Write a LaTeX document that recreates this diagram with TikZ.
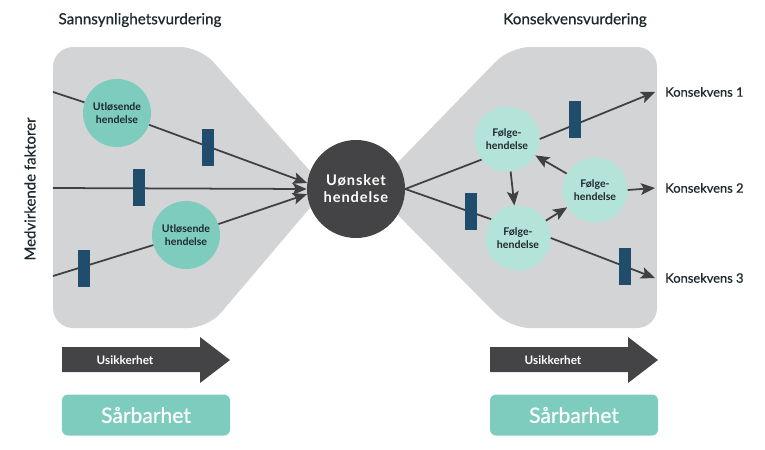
\documentclass[tikz,border=0pt]{standalone}
\usepackage{fontspec}
\setmainfont{Lato}
\newfontfamily\medfont[FakeBold=0.7]{Lato}
\usetikzlibrary{arrows.meta, positioning, calc}
\definecolor{AreaGray}{RGB}{211,212,214}
\definecolor{TealDark}{RGB}{126,204,189}
\definecolor{TealLight}{RGB}{180,227,217}
\definecolor{CoreGray}{RGB}{68,68,70}
\definecolor{BarBlue}{RGB}{31,77,107}
\definecolor{LineGray}{RGB}{64,64,66}
\definecolor{TextDark}{RGB}{30,40,45}

\begin{document}
\begin{tikzpicture}[
    x=0.03cm, y=-0.03cm,
    area/.style={fill=AreaGray, rounded corners=0.6cm},
    trigger/.style={circle, fill=TealDark, minimum size=2.04cm, inner sep=0pt,
                    align=center, text=TextDark, font=\fontsize{9}{10.5}\selectfont\bfseries},
    follow/.style={trigger, fill=TealLight, minimum size=1.95cm},
    bar/.style={fill=BarBlue, minimum width=0.36cm, minimum height=1.11cm, inner sep=0pt},
    flow/.style={draw=LineGray, line width=1.5pt},
    arr/.style={flow, -{Stealth[length=12pt, width=10pt, inset=2.5pt]}},
    conseq/.style={anchor=west, inner xsep=0.3cm, inner ysep=1pt, text=TextDark,
                   font=\medfont\fontsize{11}{13}\selectfont},
    head/.style={text=TextDark, font=\medfont\fontsize{13}{15}\selectfont}
]
\useasboundingbox (0,0) rectangle (765,449);

% grey areas
\fill[area] (53,47) -- (200,47) -- (326,189) -- (208,328) -- (53,328) -- cycle;
\fill[area] (372,189) -- (510,47) -- (657,47) -- (657,328) -- (510,328) -- cycle;

\node[head] (tl) at (140,20) {Sannsynlighetsvurdering};
\node[head] (tr) at (575,20) {Konsekvensvurdering};
\node[head, rotate=90, font=\medfont\fontsize{12.8}{15}\selectfont] (mf) at (30,189) {Medvirkende faktorer};

% events
\node[circle, fill=CoreGray, minimum size=2.94cm, inner sep=0pt, align=center, text=white,
      font=\fontsize{12.5}{14.5}\selectfont\bfseries\addfontfeatures{LetterSpace=6}] (ue) at (356,189) {Uønsket\\hendelse};
\node[trigger] (u1) at (117,113) {Utløsende\\hendelse};
\node[trigger] (u2) at (186,235) {Utløsende\\hendelse};
\node[follow] (fa) at (507,139) {Følge-\\hendelse};
\node[follow] (ff) at (595,190) {Følge-\\hendelse};
\node[follow] (fc) at (518,238) {Følge-\\hendelse};

\node[conseq] (k1) at (655,92) {Konsekvens 1};
\node[conseq] (k2) at (655,188) {Konsekvens 2};
\node[conseq] (k3) at (655,278) {Konsekvens 3};

\coordinate (f1) at (53,92);
\coordinate (f2) at (53,188);
\coordinate (f3) at (53,276);

% left side
\draw[flow] (f1) -- (u1);
\draw[arr] (u1) -- (ue.173);
\draw[arr] (f2) -- (ue.180);
\draw[flow] (f3) -- (u2);
\draw[arr] (u2) -- (ue.186);

% right side
\draw[flow] (ue.east) -- (fa.219);
\draw[flow] (ue.east) -- (fc.145);
\draw[arr] (fa.east) -- (k1.west);
\draw[arr] (ff.east) -- (k2.west);
\draw[arr] (fc.east) -- (k3.west);
\draw[arr] (fa) -- (fc);
\draw[arr] (fc) -- (ff);
\draw[arr] (ff) -- (fa);

% barriers
\node[bar] (b1) at (208,147) {};
\node[bar] (b2) at (139,187) {};
\node[bar] (b3) at (84,268) {};
\node[bar] (b4) at (471,211) {};
\node[bar] (b5) at (575,119) {};
\node[bar] (b6) at (625,266) {};

% bottom
\foreach \dx/\nm in {0/l, 428/r} {
  \fill[CoreGray] (62+\dx,347) -- (200+\dx,347) -- (200+\dx,337) -- (230+\dx,360)
                  -- (200+\dx,383) -- (200+\dx,372) -- (62+\dx,372) -- cycle;
  \node[text=white, font=\fontsize{10}{12}\selectfont\bfseries] (us\nm) at (125+\dx,360) {Usikkerhet};
  \node[fill=TealDark, rounded corners=0.18cm, minimum width=5.04cm, minimum height=1.23cm,
        text=white, font=\medfont\fontsize{18}{20}\selectfont] (sb\nm) at (146+\dx,415) {Sårbarhet};
}
\end{tikzpicture}
\end{document}
